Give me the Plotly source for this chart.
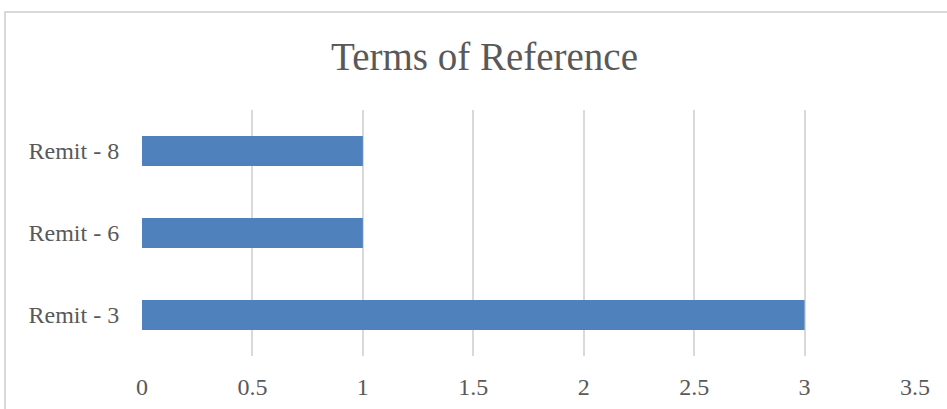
import plotly.graph_objects as go

categories = ["Remit - 3", "Remit - 6", "Remit - 8"]
values = [3, 1, 1]
x_ticks = [0, 0.5, 1, 1.5, 2, 2.5, 3, 3.5]
x_tick_labels = ["0", "0.5", "1", "1.5", "2", "2.5", "3", "3.5"]
title_text = "Terms of Reference"

W, H = 947, 409
ml, mr, mt, mb = 142, 32, 110, 53
pw = W - ml - mr
ph = H - mt - mb

fig = go.Figure(go.Bar(
    x=values, y=categories, orientation="h",
    marker=dict(color="#4F81BD", line=dict(width=0)),
))

font_family = "Liberation Serif, Times New Roman, serif"
fig.update_layout(
    width=W, height=H,
    margin=dict(l=ml, r=mr, t=mt, b=mb),
    paper_bgcolor="white", plot_bgcolor="white",
    bargap=0.634,
    showlegend=False,
    title=dict(text=title_text, x=(333 + 636) / 2 / W, xanchor="center",
               y=1 - 56 / H, yanchor="middle", yref="container",
               font=dict(family=font_family, size=39, color="#595959")),
    font=dict(family=font_family, color="#595959"),
    xaxis=dict(range=[0, 3.5], tickvals=x_ticks, ticktext=x_tick_labels,
               showgrid=True, gridcolor="#D9D9D9", gridwidth=2,
               zeroline=False, showline=False, automargin=False,
               ticks="outside", ticklen=9, tickcolor="rgba(0,0,0,0)",
               tickfont=dict(family=font_family, size=24, color="#595959")),
    yaxis=dict(showgrid=False, zeroline=False, showline=False, automargin=False,
               ticks="outside", ticklen=17, tickcolor="rgba(0,0,0,0)",
               tickfont=dict(family=font_family, size=24, color="#595959")),
    shapes=[dict(type="rect", xref="paper", yref="paper",
                 x0=(5 - ml) / pw, x1=(W + 20 - ml) / pw,
                 y0=-(mb + 20) / ph, y1=(H - mb - 12) / ph,
                 line=dict(color="#D9D9D9", width=2), fillcolor="rgba(0,0,0,0)",
                 layer="below")],
)

fig.write_html("out.html", config={"displayModeBar": False},
               post_script="document.body.style.margin='0';document.body.style.overflow='hidden';")
